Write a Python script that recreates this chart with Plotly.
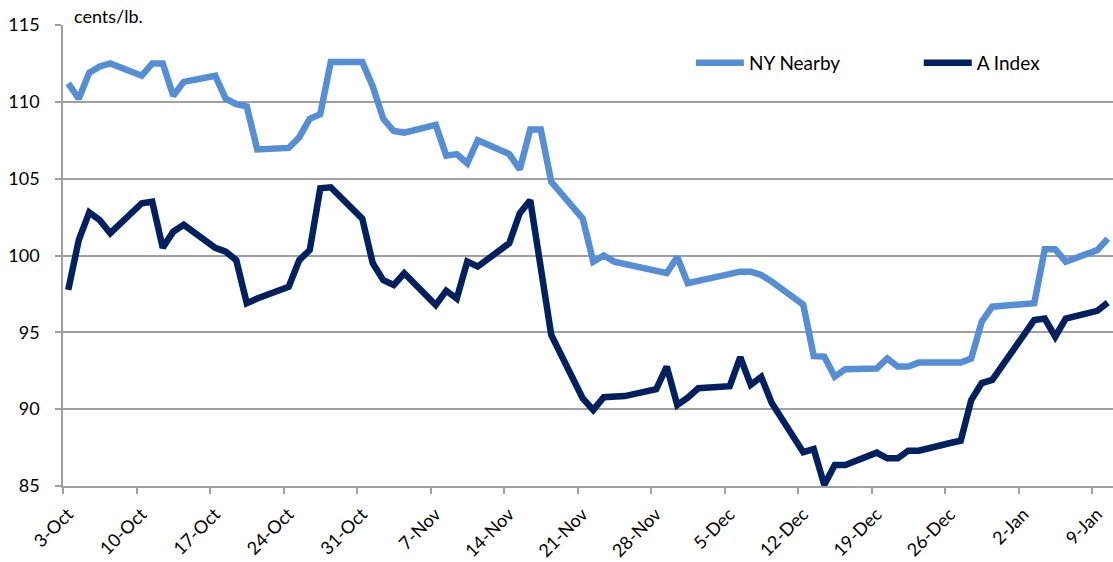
import plotly.graph_objects as go

dates = [
    "2011-10-03", "2011-10-04", "2011-10-05", "2011-10-06", "2011-10-07",
    "2011-10-10", "2011-10-11", "2011-10-12", "2011-10-13", "2011-10-14",
    "2011-10-17", "2011-10-18", "2011-10-19", "2011-10-20", "2011-10-21",
    "2011-10-24", "2011-10-25", "2011-10-26", "2011-10-27", "2011-10-28",
    "2011-10-31", "2011-11-01", "2011-11-02", "2011-11-03", "2011-11-04",
    "2011-11-07", "2011-11-08", "2011-11-09", "2011-11-10", "2011-11-11",
    "2011-11-14", "2011-11-15", "2011-11-16", "2011-11-17", "2011-11-18",
    "2011-11-21", "2011-11-22", "2011-11-23", "2011-11-24", "2011-11-25",
    "2011-11-28", "2011-11-29", "2011-11-30", "2011-12-01", "2011-12-02",
    "2011-12-05", "2011-12-06", "2011-12-07", "2011-12-08", "2011-12-09",
    "2011-12-12", "2011-12-13", "2011-12-14", "2011-12-15", "2011-12-16",
    "2011-12-19", "2011-12-20", "2011-12-21", "2011-12-22", "2011-12-23",
    "2011-12-26", "2011-12-27", "2011-12-28", "2011-12-29", "2011-12-30",
    "2012-01-02", "2012-01-03", "2012-01-04", "2012-01-05", "2012-01-06",
    "2012-01-09", "2012-01-10",
]

ny_nearby = [
    111.2, 110.2, 111.9, 112.3, 112.5,
    111.7, 112.5, 112.5, 110.4, 111.3,
    111.7, 110.2, 109.85, 109.7, 106.9,
    107.0, 107.7, 108.9, 109.2, 112.6,
    112.6, 111.0, 108.9, 108.1, 108.0,
    108.5, 106.5, 106.6, 106.0, 107.5,
    106.6, 105.6, 108.2, 108.2, 104.8,
    102.4, 99.6, 100.0, 99.6, 99.45,
    99.0, 98.85, 99.9, 98.2, 98.35,
    98.8, 98.95, 98.95, 98.73, 98.3,
    96.8, 93.45, 93.42, 92.12, 92.6,
    92.65, 93.3, 92.77, 92.77, 93.03,
    93.03, 93.03, 93.3, 95.7, 96.67,
    96.8, 96.9, 100.4, 100.4, 99.6,
    100.35, 101.1,
]

a_index = [
    97.76, 101.0, 102.8, 102.3, 101.45,
    103.4, 103.5, 100.5, 101.55, 102.0,
    100.5, 100.25, 99.7, 96.9, 97.2,
    97.97, 99.7, 100.36, 104.37, 104.44,
    102.4, 99.5, 98.4, 98.08, 98.84,
    96.78, 97.71, 97.2, 99.6, 99.28,
    100.8, 102.75, 103.6, 99.2, 94.83,
    90.7, 89.95, 90.78, 90.78, 90.85,
    91.3, 92.77, 90.28, 90.75, 91.36,
    91.5, 93.38, 91.58, 92.1, 90.4,
    87.2, 87.4, 85.07, 86.37, 86.37,
    87.17, 86.8, 86.8, 87.3, 87.3,
    87.8, 87.95, 90.6, 91.7, 91.9,
    94.9, 95.8, 95.9, 94.72, 95.9,
    96.4, 96.93,
]

series_names = ["NY Nearby", "A Index"]
series_colors = ["#558ED5", "#002060"]
y_ticks = [85, 90, 95, 100, 105, 110, 115]
x_range = ["2011-10-03", "2012-01-11"]
y_title = "cents/lb."

FONT = "Lato, 'Open Sans', sans-serif"
GRID = "#A0A0A0"

fig = go.Figure()
legend_refs = ["legend", "legend2"]
for name, vals, col, lg in zip(series_names, [ny_nearby, a_index], series_colors, legend_refs):
    fig.add_trace(go.Scatter(
        x=dates, y=vals, name=name, mode="lines",
        xperiod=86400000, xperiodalignment="middle",
        line=dict(color=col, width=6.5), legend=lg,
    ))

legend_common = dict(
    orientation="h", y=0.918, xanchor="left", yanchor="middle",
    bgcolor="rgba(0,0,0,0)", font=dict(size=19), itemwidth=48,
)

fig.update_layout(
    width=1113, height=562,
    margin=dict(l=63, r=0, t=25, b=76),
    paper_bgcolor="white", plot_bgcolor="white",
    font=dict(family=FONT, size=18, color="#000000"),
    showlegend=True,
    legend=dict(x=0.598, **legend_common),
    legend2=dict(x=0.815, **legend_common),
    annotations=[dict(
        text=y_title, xref="paper", yref="paper", x=0.009, y=1,
        xanchor="left", yanchor="bottom", showarrow=False,
        font=dict(size=18), yshift=-4,
    )],
)

fig.update_xaxes(
    type="date", range=x_range,
    tick0="2011-10-03", dtick=7 * 86400000, tickformat="%-d-%b",
    tickangle=-45, ticks="outside", ticklen=6, tickcolor=GRID, tickwidth=1.5,
    showline=True, linecolor=GRID, linewidth=1.5,
    showgrid=False, zeroline=False, automargin=False,
    ticklabelstandoff=3, ticklabelshift=5,
)
fig.update_yaxes(
    range=[85, 115], tickvals=y_ticks,
    ticks="outside", ticklen=6, tickcolor=GRID, tickwidth=1.5,
    showline=True, linecolor=GRID, linewidth=1.5,
    showgrid=True, gridcolor=GRID, gridwidth=1.5,
    zeroline=False, automargin=False, ticklabelstandoff=12,
)

fig.write_html(
    "out.html",
    config={"displayModeBar": False},
    post_script="document.body.style.margin='0';",
)
